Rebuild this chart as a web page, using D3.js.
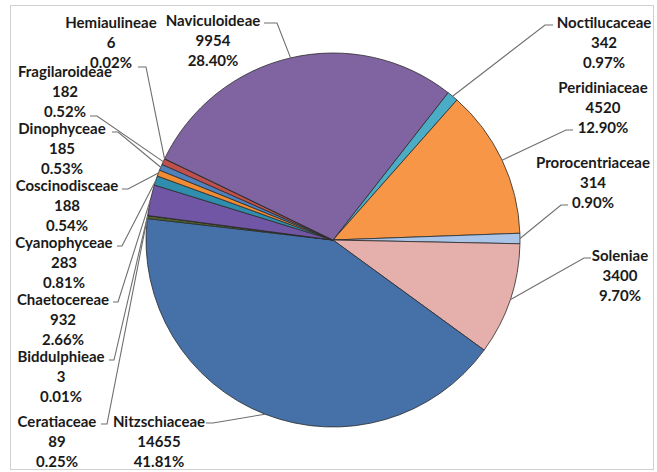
<!DOCTYPE html>
<html>
<head>
<meta charset="utf-8">
<script src="https://cdn.jsdelivr.net/npm/d3@7/dist/d3.min.js"></script>
<style>
  html, body { margin: 0; padding: 0; background: #fff; }
  svg { display: block; }
  .lbl { font-family: Lato, "Open Sans", sans-serif; font-weight: bold; font-size: 15px; fill: #1a1a1a; }
</style>
</head>
<body>
<svg id="chart" width="657" height="472"></svg>
<script>
// Taxa in clockwise order, starting just right of twelve o'clock
const taxa = ["Noctilucaceae", "Peridiniaceae", "Prorocentriaceae", "Soleniae", "Nitzschiaceae",
  "Ceratiaceae", "Biddulphieae", "Chaetocereae", "Cyanophyceae", "Coscinodisceae",
  "Dinophyceae", "Fragilaroideae", "Hemiaulineae", "Naviculoideae"];
const counts = [342, 4520, 314, 3400, 14655, 89, 3, 932, 283, 188, 185, 182, 6, 9954];
const percentLabels = ["0.97%", "12.90%", "0.90%", "9.70%", "41.81%", "0.25%", "0.01%",
  "2.66%", "0.81%", "0.54%", "0.53%", "0.52%", "0.02%", "28.40%"];
const sliceColors = ["#4BACC6", "#F79646", "#AAC5E8", "#E5B0AC", "#4571A8", "#4F6228", "#772C2A",
  "#7256A6", "#2F8EAD", "#F28C33", "#4F81BD", "#C0504D", "#9BBB59", "#8064A2"];

// Label placement: x/y = centre of first text line, (ax, ay) = where the leader leaves the label,
// ex = end of the short horizontal leader segment
const labelLayout = {
  "Noctilucaceae":   { x: 604, y: 23,  ax: 553, ay: 25,  ex: 545 },
  "Peridiniaceae":   { x: 603, y: 88,  ax: 573, ay: 130, ex: 566 },
  "Prorocentriaceae":{ x: 593, y: 163, ax: 568, ay: 205, ex: 561 },
  "Soleniae":        { x: 620, y: 256, ax: 591, ay: 258, ex: 584 },
  "Nitzschiaceae":   { x: 159, y: 422, ax: 206, ay: 423, ex: 213 },
  "Ceratiaceae":     { x: 57,  y: 422, ax: 101, ay: 424, ex: 107 },
  "Biddulphieae":    { x: 61,  y: 357, ax: 109, ay: 360, ex: 114 },
  "Chaetocereae":    { x: 63,  y: 300, ax: 113, ay: 302, ex: 118 },
  "Cyanophyceae":    { x: 64,  y: 243, ax: 117, ay: 246, ex: 122 },
  "Coscinodisceae":  { x: 67,  y: 186, ax: 122, ay: 189, ex: 128 },
  "Dinophyceae":     { x: 62,  y: 129, ax: 112, ay: 132, ex: 118 },
  "Fragilaroideae":  { x: 65,  y: 72,  ax: 90,  ay: 116, ex: 97 },
  "Hemiaulineae":    { x: 111, y: 23,  ax: 138, ay: 67,  ex: 146 },
  "Naviculoideae":   { x: 213, y: 21,  ax: 264, ay: 23,  ex: 277 }
};

const svg = d3.select("#chart");
const cx = 333, cy = 240, radius = 187;
const lineGap = 19.6;

// Chart frame
svg.append("rect")
  .attr("x", 10.5).attr("y", 5.5)
  .attr("width", 643).attr("height", 464)
  .attr("fill", "#fff").attr("stroke", "#d0d0d0").attr("stroke-width", 1);

const rows = taxa.map((name, i) => ({ name, count: counts[i], pct: percentLabels[i], color: sliceColors[i] }));

const startDeg = 38;
const pie = d3.pie()
  .value(d => d.count)
  .sort(null)
  .startAngle(startDeg * Math.PI / 180)
  .endAngle(startDeg * Math.PI / 180 + 2 * Math.PI);

const arcs = pie(rows);
const arc = d3.arc().innerRadius(0).outerRadius(radius);
const rimArc = d3.arc().innerRadius(radius).outerRadius(radius);

const g = svg.append("g").attr("transform", `translate(${cx},${cy})`);

g.selectAll("path.slice")
  .data(arcs)
  .join("path")
  .attr("class", "slice")
  .attr("d", arc)
  .attr("fill", d => d.data.color)
  .attr("stroke", "#2b2b2b")
  .attr("stroke-width", 0.8)
  .attr("stroke-linejoin", "round");

// Leader lines
const leaders = svg.append("g");
arcs.forEach(a => {
  const L = labelLayout[a.data.name];
  const [px, py] = rimArc.centroid(a);
  const path = d3.path();
  path.moveTo(L.ax, L.ay);
  path.lineTo(L.ex, L.ay);
  path.lineTo(cx + px, cy + py);
  leaders.append("path")
    .attr("d", path.toString())
    .attr("fill", "none")
    .attr("stroke", "#6e6e6e")
    .attr("stroke-width", 1.1);
});

// Labels: name, count, percent
const labels = svg.append("g");
arcs.forEach(a => {
  const L = labelLayout[a.data.name];
  const lines = [a.data.name, d3.format("d")(a.data.count), a.data.pct];
  const t = labels.append("text")
    .attr("class", "lbl")
    .attr("text-anchor", "middle");
  lines.forEach((s, k) => {
    t.append("tspan")
      .attr("x", L.x)
      .attr("y", L.y + k * lineGap)
      .attr("dy", "0.36em")
      .text(s);
  });
});
</script>
</body>
</html>
